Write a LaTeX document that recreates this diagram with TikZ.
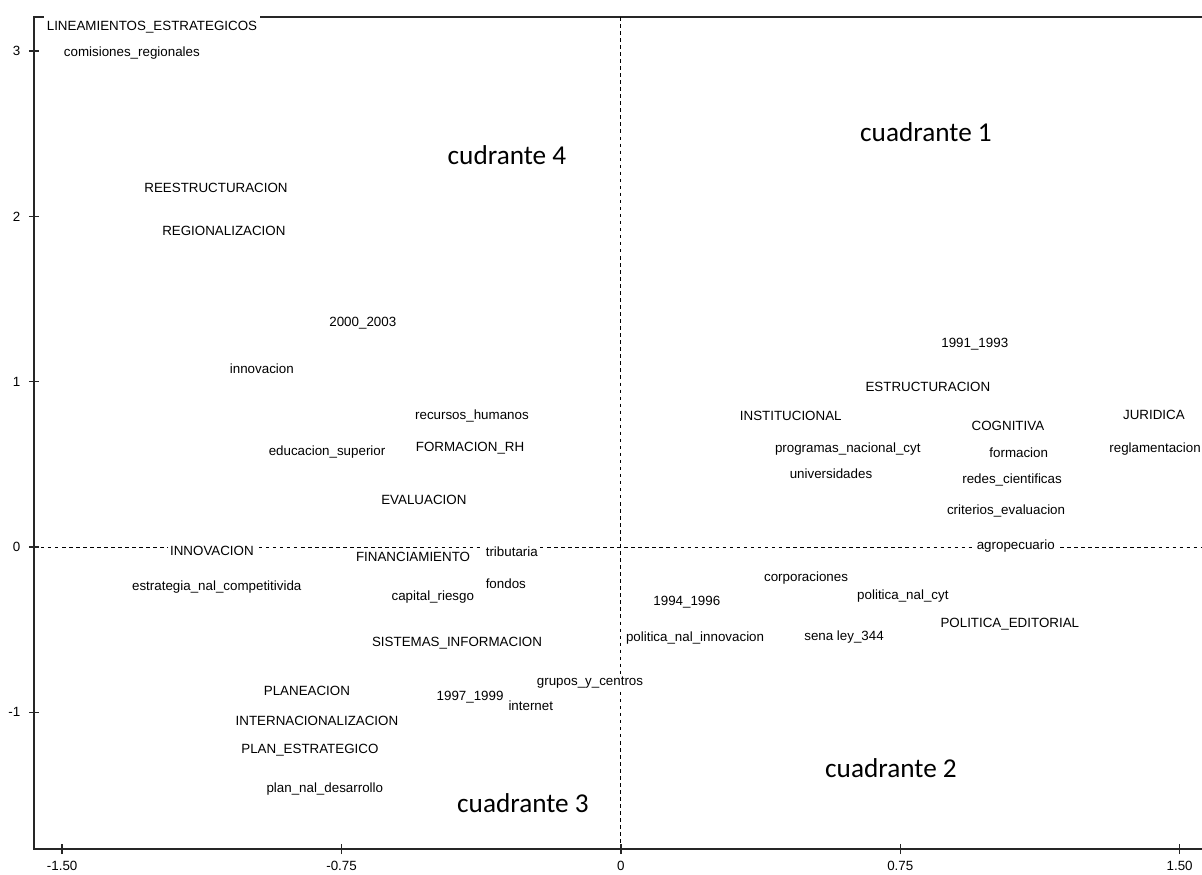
\documentclass[tikz,border=0pt]{standalone}
\usepackage{fontspec}
\setmainfont{Liberation Sans}
\newfontfamily\quadfont{Carlito}

\begin{document}
\begin{tikzpicture}[x=7.45cm, y=3.306cm,
    every node/.style={font=\fontsize{7.6}{9}\selectfont, inner sep=1.5pt},
    lbl/.style={fill=white},
    quad/.style={font=\quadfont\fontsize{15.5}{18}\selectfont},
    axis/.style={line width=0.8pt, black!85},
    zero/.style={line width=0.5pt, dash pattern=on 2pt off 2pt}]

    \useasboundingbox (-1.667,-1.984) rectangle (1.560,3.309);

    % Frame
    \coordinate (tl) at (-1.576,3.206);
    \coordinate (bl) at (-1.576,-1.827);
    \coordinate (tr) at (1.560,3.206);
    \coordinate (br) at (1.560,-1.827);
    \draw[axis] (tr) -- (tl) -- (bl) -- (br);

    % Zero lines
    \coordinate (xl) at (-1.576,0);
    \coordinate (xr) at (1.560,0);
    \coordinate (yt) at (0,3.206);
    \coordinate (yb) at (0,-1.827);
    \draw[zero] (xl) -- (xr);
    \draw[zero] (yt) -- (yb);

    % Ticks
    \foreach \y in {3,2,1,0,-1} {
        \draw[axis] ([xshift=-2.8pt]-1.576,\y) -- ([xshift=2.8pt]-1.576,\y);
        \node[anchor=east] (yl\y) at ([xshift=-6pt]-1.576,\y) {\y};
    }
    \foreach \x/\t in {-1.5/-1.50, -0.75/-0.75, 0/0, 0.75/0.75, 1.5/1.50} {
        \draw[axis] ([yshift=-3pt]\x,-1.827) -- ([yshift=3pt]\x,-1.827);
        \node (xl\t) at (\x,-1.930) {\t};
    }

    % Quadrants
    \node[quad] (q1) at (0.819,2.511) {cuadrante 1};
    \node[quad] (q2) at (0.725,-1.337) {cuadrante 2};
    \node[quad] (q3) at (-0.263,-1.549) {cuadrante 3};
    \node[quad] (q4) at (-0.306,2.371) {cudrante 4};

    % Labels, left half
    \node[lbl, inner ysep=4.5pt] (lineam) at (-1.259,3.146) {LINEAMIENTOS\_ESTRATEGICOS};
    \node[lbl] (comis) at (-1.313,2.989) {comisiones\_regionales};
    \node[lbl] (reestr) at (-1.087,2.172) {REESTRUCTURACION};
    \node[lbl] (region) at (-1.066,1.912) {REGIONALIZACION};
    \node[lbl] (p0003) at (-0.693,1.355) {2000\_2003};
    \node[lbl] (innovl) at (-0.964,1.077) {innovacion};
    \node[lbl] (recurs) at (-0.400,0.793) {recursos\_humanos};
    \node[lbl] (formrh) at (-0.405,0.599) {FORMACION\_RH};
    \node[lbl] (educs) at (-0.789,0.575) {educacion\_superior};
    \node[lbl] (evalu) at (-0.529,0.284) {EVALUACION};
    \node[lbl] (innovu) at (-1.098,-0.024) {INNOVACION};
    \node[lbl] (financ) at (-0.558,-0.060) {FINANCIAMIENTO};
    \node[lbl] (tribut) at (-0.293,-0.030) {tributaria};
    \node[lbl] (estrat) at (-1.085,-0.242) {estrategia\_nal\_competitivida};
    \node[lbl] (capit) at (-0.505,-0.302) {capital\_riesgo};
    \node[lbl] (fondos) at (-0.309,-0.224) {fondos};
    \node[lbl] (sistem) at (-0.440,-0.581) {SISTEMAS\_INFORMACION};
    \node[lbl] (planea) at (-0.843,-0.871) {PLANEACION};
    \node[lbl] (p9799) at (-0.405,-0.907) {1997\_1999};
    \node[lbl] (intnet) at (-0.242,-0.962) {internet};
    \node[lbl] (grupos) at (-0.083,-0.823) {grupos\_y\_centros};
    \node[lbl] (internac) at (-0.816,-1.053) {INTERNACIONALIZACION};
    \node[lbl] (planest) at (-0.835,-1.228) {PLAN\_ESTRATEGICO};
    \node[lbl] (plannal) at (-0.795,-1.464) {plan\_nal\_desarrollo};

    % Labels, right half
    \node[lbl] (p9193) at (0.950,1.228) {1991\_1993};
    \node[lbl] (estruc) at (0.824,0.968) {ESTRUCTURACION};
    \node[lbl] (instit) at (0.456,0.793) {INSTITUCIONAL};
    \node[lbl] (jurid) at (1.431,0.799) {JURIDICA};
    \node[lbl] (cognit) at (1.039,0.732) {COGNITIVA};
    \node[lbl] (progr) at (0.609,0.593) {programas\_nacional\_cyt};
    \node[lbl] (formac) at (1.068,0.569) {formacion};
    \node[lbl] (reglam) at (1.434,0.593) {reglamentacion};
    \node[lbl] (univ) at (0.564,0.442) {universidades};
    \node[lbl] (redes) at (1.050,0.405) {redes\_cientificas};
    \node[lbl] (criter) at (1.034,0.218) {criterios\_evaluacion};
    \node[lbl] (agro) at (1.060,0.006) {agropecuario};
    \node[lbl] (corpor) at (0.497,-0.188) {corporaciones};
    \node[lbl] (polcyt) at (0.757,-0.296) {politica\_nal\_cyt};
    \node[lbl] (p9496) at (0.177,-0.333) {1994\_1996};
    \node[lbl] (poledit) at (1.044,-0.466) {POLITICA\_EDITORIAL};
    \node[lbl, inner xsep=0.5pt] (polinn) at (0.199,-0.551) {politica\_nal\_innovacion};
    \node[lbl] (sena) at (0.599,-0.544) {sena ley\_344};

\end{tikzpicture}
\end{document}
